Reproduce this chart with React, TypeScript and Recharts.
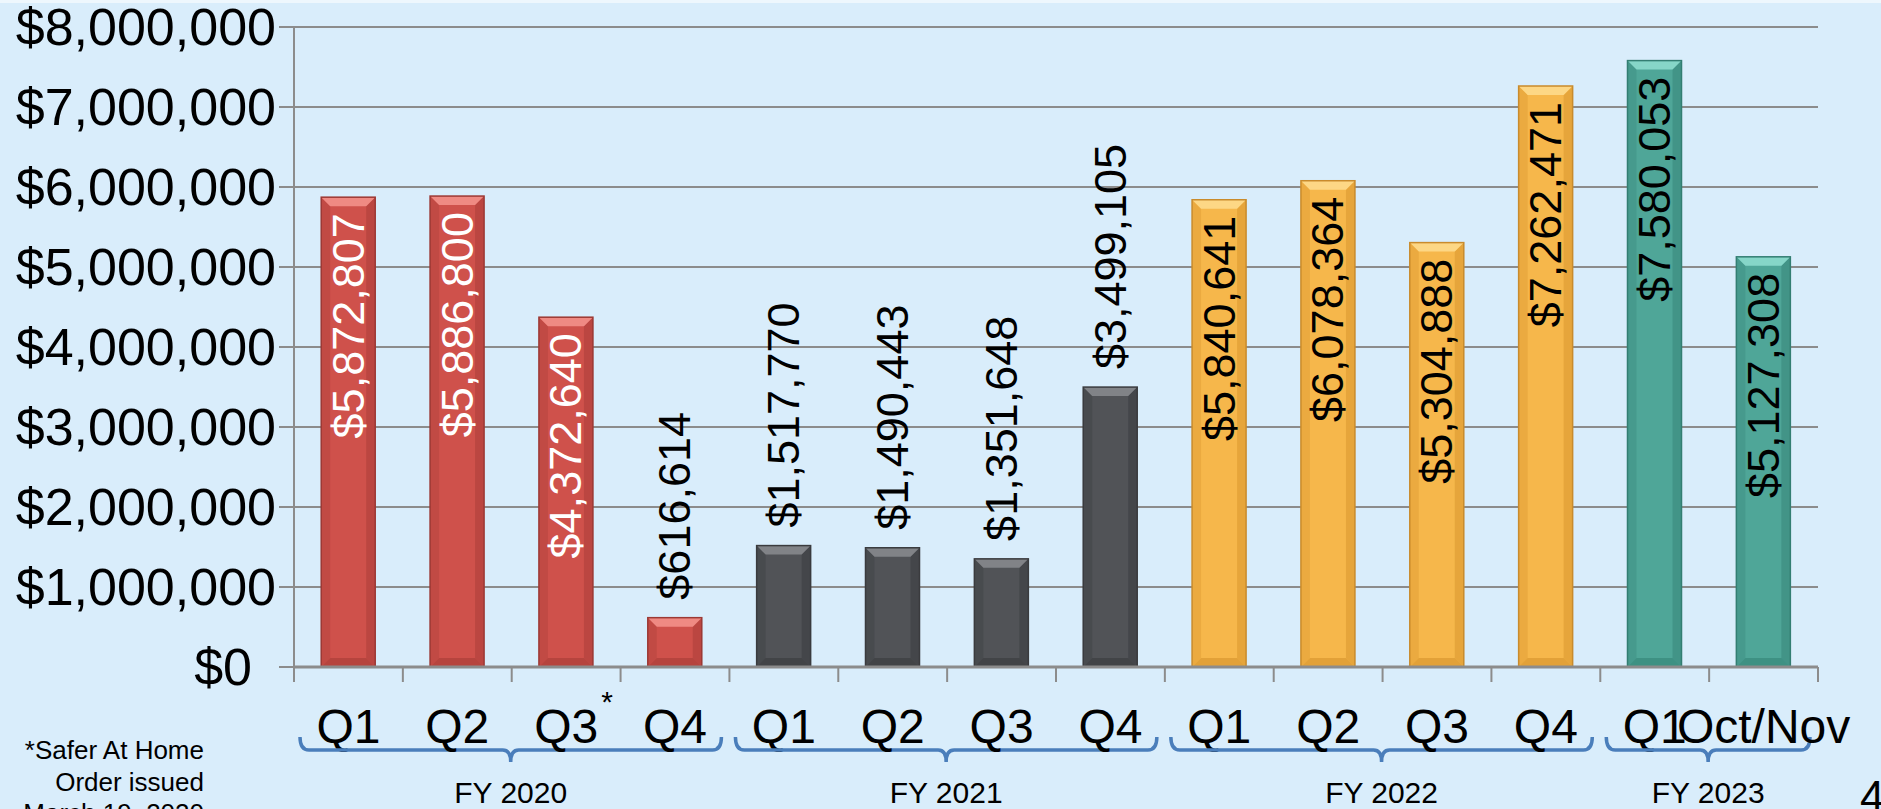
import React from "react";
import { BarChart, Bar, XAxis, YAxis, CartesianGrid, LabelList } from "recharts";

const quarters = ["Q1", "Q2", "Q3", "Q4", "Q1", "Q2", "Q3", "Q4", "Q1", "Q2", "Q3", "Q4", "Q1", "Oct/Nov"];
const fiscalYears = [
  "FY 2020", "FY 2020", "FY 2020", "FY 2020",
  "FY 2021", "FY 2021", "FY 2021", "FY 2021",
  "FY 2022", "FY 2022", "FY 2022", "FY 2022",
  "FY 2023", "FY 2023",
];
const revenue = [
  5872807, 5886800, 4372640, 616614,
  1517770, 1490443, 1351648, 3499105,
  5840641, 6078364, 5304888, 7262471,
  7580053, 5127308,
];
const yTicks = [0, 1000000, 2000000, 3000000, 4000000, 5000000, 6000000, 7000000, 8000000];
const groupNames = ["FY 2020", "FY 2021", "FY 2022", "FY 2023"];
const groupSizes = [4, 4, 4, 2];
const footnote = ["*Safer At Home", "Order issued", "March 19, 2020"];

const PALETTE: Record<string, { base: string; light: string; dark: string; border: string }> = {
  "FY 2020": { base: "#cf514b", light: "#ef8a83", dark: "#a23a35", border: "#9c3934" },
  "FY 2021": { base: "#515357", light: "#818387", dark: "#36383b", border: "#3a3b3e" },
  "FY 2022": { base: "#f6b74b", light: "#fdd785", dark: "#d29029", border: "#c98b2c" },
  "FY 2023": { base: "#4fa698", light: "#86d6c8", dark: "#327f73", border: "#337e72" },
};

const W = 1881;
const H = 809;
const MARGIN = { top: 27, right: 63, left: 0, bottom: 0 };
const Y_AXIS_W = 294;
const X_AXIS_H = 142;
const BAND = (W - MARGIN.left - MARGIN.right - Y_AXIS_W) / quarters.length;
const BASE_Y = H - X_AXIS_H;
const FONT = "'Liberation Sans', Arial, sans-serif";
const GRID = "#8c8c8c";
const BRACE = "#4a7ebb";

const data = quarters.map((q, i) => ({
  key: `${fiscalYears[i]} ${q}`,
  quarter: q,
  fy: fiscalYears[i],
  revenue: revenue[i],
}));

const money = (v: number) => "$" + v.toLocaleString("en-US");

// eslint-disable-next-line @typescript-eslint/no-explicit-any
function BevelBar(props: any) {
  const { x, y, width, height, payload } = props;
  if (!height || height <= 0) return null;
  const c = PALETTE[payload.fy];
  const b = Math.min(9, height / 2);
  return (
    <g>
      <rect x={x} y={y} width={width} height={height} fill={c.base} />
      <polygon
        points={`${x},${y} ${x + b},${y + b} ${x + b},${y + height - b} ${x},${y + height}`}
        fill={c.dark}
        opacity={0.3}
      />
      <polygon
        points={`${x + width},${y} ${x + width - b},${y + b} ${x + width - b},${y + height - b} ${x + width},${y + height}`}
        fill={c.dark}
        opacity={0.45}
      />
      <polygon
        points={`${x},${y + height} ${x + width},${y + height} ${x + width - b},${y + height - b} ${x + b},${y + height - b}`}
        fill={c.dark}
        opacity={0.55}
      />
      <polygon
        points={`${x},${y} ${x + width},${y} ${x + width - b},${y + b} ${x + b},${y + b}`}
        fill={c.light}
      />
      <rect x={x} y={y} width={width} height={height} fill="none" stroke={c.border} strokeWidth={1.5} />
    </g>
  );
}

// eslint-disable-next-line @typescript-eslint/no-explicit-any
function ValueLabel(props: any) {
  const { x, y, width, height, value, index } = props;
  const fy = fiscalYears[index];
  const cx = x + width / 2;
  const inside = fy !== "FY 2021" && height > 250;
  const ty = inside ? y + 16 : y - 18;
  return (
    <text
      x={cx}
      y={ty}
      transform={`rotate(-90, ${cx}, ${ty})`}
      textAnchor={inside ? "end" : "start"}
      dominantBaseline="central"
      fontSize={45}
      fontFamily={FONT}
      fill={inside && fy === "FY 2020" ? "#ffffff" : "#000000"}
    >
      {money(value)}
    </text>
  );
}

// eslint-disable-next-line @typescript-eslint/no-explicit-any
function YTick(props: any) {
  const { x, y, payload } = props;
  const shift = payload.value === 0 ? 24 : 0;
  return (
    <text
      x={x - shift}
      y={y}
      textAnchor="end"
      dominantBaseline="central"
      fontSize={52}
      fontFamily={FONT}
      fill="#000"
    >
      {money(payload.value)}
    </text>
  );
}

function braceFor(start: number, size: number) {
  const xs = start + 6;
  const xe = start + size * BAND - 8;
  const mid = (xs + xe) / 2;
  const yl = BASE_Y + 83;
  return `M${xs},${yl - 13} Q${xs},${yl} ${xs + 9},${yl} L${mid - 8},${yl} Q${mid},${yl} ${mid},${yl + 12} Q${mid},${yl} ${mid + 8},${yl} L${xe - 9},${yl} Q${xe},${yl} ${xe},${yl - 13}`;
}

// eslint-disable-next-line @typescript-eslint/no-explicit-any
function QuarterTick(props: any) {
  const { x, payload } = props;
  const i: number = payload.index ?? props.index;
  const left = x - BAND / 2;
  const isLast = i === quarters.length - 1;
  // start of a fiscal-year group?
  let gIdx = -1;
  let acc = 0;
  groupSizes.forEach((s, g) => {
    if (acc === i) gIdx = g;
    acc += s;
  });
  const labelY = BASE_Y + 59;
  const star = fiscalYears[i] === "FY 2020" && quarters[i] === "Q3";
  return (
    <g>
      <line x1={left} y1={BASE_Y} x2={left} y2={BASE_Y + 15} stroke={GRID} strokeWidth={2} />
      {isLast && (
        <line x1={left + BAND} y1={BASE_Y} x2={left + BAND} y2={BASE_Y + 15} stroke={GRID} strokeWidth={2} />
      )}
      <text
        x={x}
        y={labelY}
        textAnchor="middle"
        dominantBaseline="central"
        fontSize={48}
        fontFamily={FONT}
        fill="#000"
      >
        {quarters[i]}
      </text>
      {star && (
        <text x={x + 35} y={labelY - 14} fontSize={30} fontFamily={FONT} fill="#000">
          *
        </text>
      )}
      {gIdx >= 0 && (
        <g>
          <path d={braceFor(left, groupSizes[gIdx])} fill="none" stroke={BRACE} strokeWidth={3.5} />
          <text
            x={left + (groupSizes[gIdx] * BAND) / 2 - 1}
            y={BASE_Y + 125}
            textAnchor="middle"
            dominantBaseline="central"
            fontSize={30}
            fontFamily={FONT}
            fill="#000"
          >
            {groupNames[gIdx]}
          </text>
        </g>
      )}
    </g>
  );
}

export default function App() {
  return (
    <div
      style={{
        position: "fixed",
        left: 0,
        top: 0,
        width: W,
        height: H,
        overflow: "hidden",
        background: "#d9edfb",
        fontFamily: FONT,
      }}
    >
      <div style={{ position: "absolute", left: 0, top: 0, width: W, height: 3, background: "#eef7fd" }} />
      <BarChart width={W} height={H} data={data} margin={MARGIN} barCategoryGap="25%">
        <CartesianGrid vertical={false} stroke={GRID} strokeWidth={2} />
        <YAxis
          width={Y_AXIS_W}
          domain={[0, 8000000]}
          ticks={yTicks}
          interval={0}
          tick={<YTick />}
          tickSize={15}
          tickMargin={3}
          tickLine={{ stroke: GRID, strokeWidth: 2 }}
          axisLine={{ stroke: GRID, strokeWidth: 2 }}
        />
        <XAxis
          dataKey="key"
          height={X_AXIS_H}
          interval={0}
          tick={<QuarterTick />}
          tickLine={false}
          axisLine={{ stroke: GRID, strokeWidth: 3 }}
        />
        <Bar dataKey="revenue" shape={<BevelBar />} isAnimationActive={false}>
          <LabelList dataKey="revenue" content={<ValueLabel />} />
        </Bar>
      </BarChart>
      <div
        style={{
          position: "absolute",
          left: 0,
          top: 735,
          width: 204,
          textAlign: "right",
          fontSize: 26,
          lineHeight: "31.5px",
          color: "#000",
          whiteSpace: "nowrap",
        }}
      >
        {footnote.map((l) => (
          <div key={l}>{l}</div>
        ))}
      </div>
      <div style={{ position: "absolute", left: 1860, top: 775, fontSize: 44, lineHeight: "44px", color: "#000" }}>
        4
      </div>
    </div>
  );
}
